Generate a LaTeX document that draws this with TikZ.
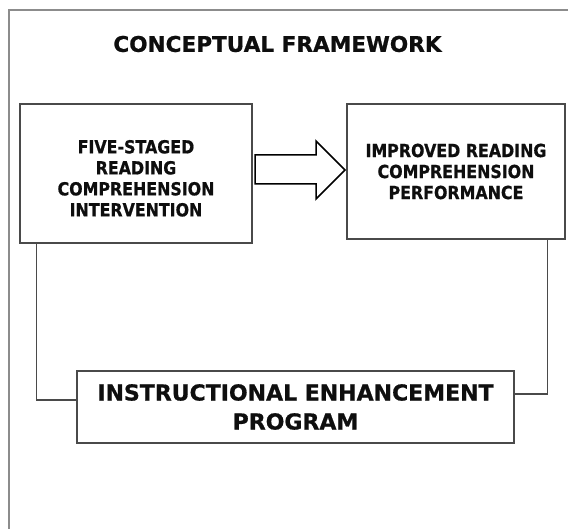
\documentclass[tikz,border=0pt]{standalone}
\usepackage{fontspec}
\setmainfont{DejaVu Sans}[BoldFeatures={FakeBold=0.8}]
\newfontfamily\boxfont{DejaVu Sans}[FakeStretch=0.88,BoldFeatures={FakeBold=0.8}]
\usetikzlibrary{calc}

\begin{document}
\begin{tikzpicture}[x=1pt,y=-1pt,thick]
	% Colours of the scan
	\definecolor{framegray}{HTML}{8C8C8C}
	\definecolor{boxgray}{HTML}{4A4A4A}
	\definecolor{inkblack}{HTML}{0E0E0E}

	\tikzset{
		stagebox/.style={draw=boxgray, line width=1.2pt, align=center, inner sep=0pt,
			text=inkblack, font=\boxfont\bfseries\fontsize{18}{21}\selectfont},
		programbox/.style={draw=boxgray, line width=1.2pt, align=center, inner sep=0pt,
			text=inkblack, font=\bfseries\fontsize{22}{29}\selectfont},
		feedline/.style={draw=boxgray, line width=1.1pt},
		fatarrow/.style={draw=black, line width=1.5pt, line join=miter, fill=white}
	}

	\useasboundingbox (0,0) rectangle (568,529);

	% Outer frame (open at right and bottom)
	\draw[framegray, line width=1.6pt] (568,10) -- (9,10) -- (9,529);

	% Title
	\node[text=inkblack, font=\bfseries\fontsize{21.6}{26}\selectfont] (title) at (277.5,44) {CONCEPTUAL FRAMEWORK};

	% Boxes
	\node[stagebox, minimum width=232pt, minimum height=139pt] (five) at (136,173.5)
		{\mbox{}\\[2pt]FIVE-STAGED\\READING\\COMPREHENSION\\INTERVENTION};
	\node[stagebox, minimum width=218pt, minimum height=135pt] (improved) at (456,171.5)
		{IMPROVED READING\\COMPREHENSION\\PERFORMANCE};
	\node[programbox, minimum width=437pt, minimum height=72pt] (program) at (295.5,407)
		{INSTRUCTIONAL ENHANCEMENT\\PROGRAM};

	% Block arrow between the two upper boxes
	\draw[fatarrow] (255,155) -- (316,155) -- (316,141) -- (345,170) -- (316,199) -- (316,184) -- (255,184) -- cycle;

	% Lines down to the program box
	\draw[feedline] ([xshift=17pt]five.south west) |- ([yshift=7pt]program.west);
	\draw[feedline] ([xshift=-18pt]improved.south east) |- ([yshift=13pt]program.east);

\end{tikzpicture}
\end{document}
